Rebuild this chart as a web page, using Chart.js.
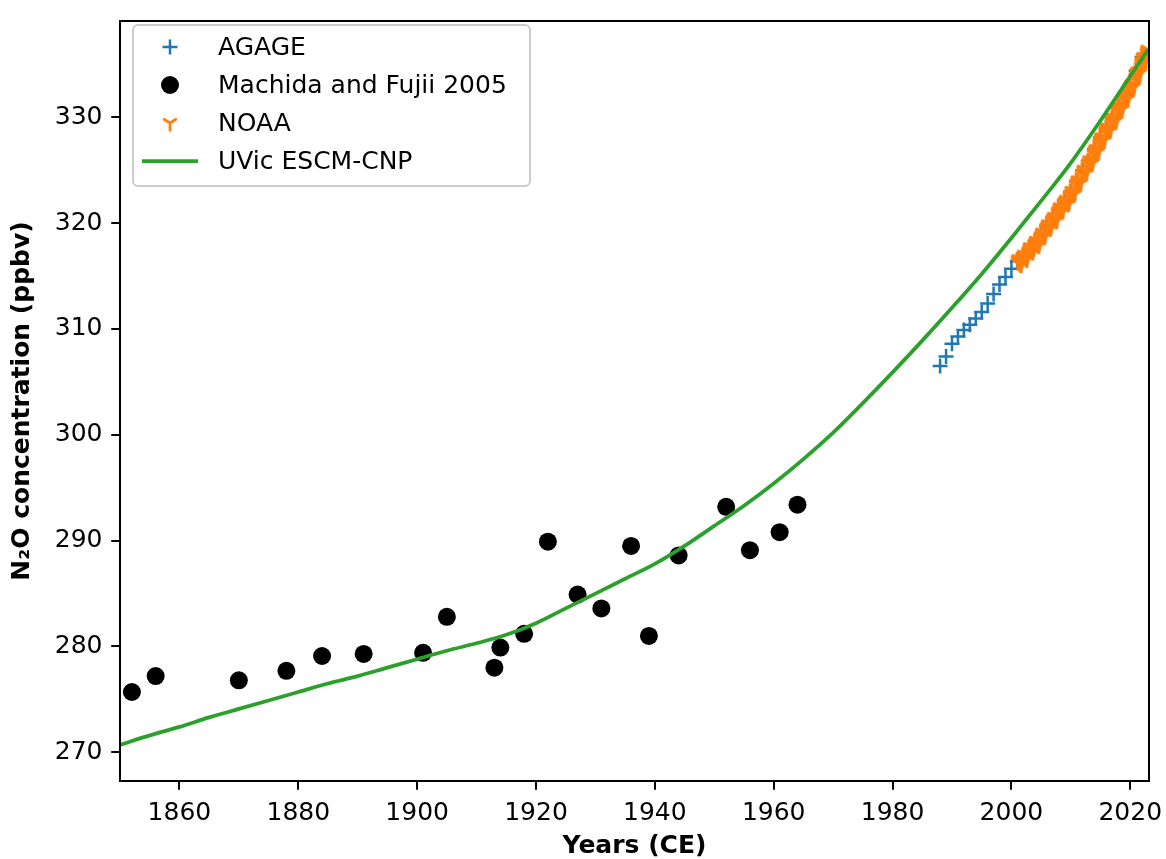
<!DOCTYPE html>
<html>
<head>
<meta charset="utf-8">
<script src="https://cdn.jsdelivr.net/npm/chart.js@4.4.0/dist/chart.umd.min.js"></script>
<style>
html,body{margin:0;padding:0;background:#ffffff;}
#wrap{width:1166px;height:859px;}
</style>
</head>
<body>
<div id="wrap"><canvas id="c" width="1166" height="859"></canvas></div>
<script>
// ---------- data ----------
const xTicks = [1860, 1880, 1900, 1920, 1940, 1960, 1980, 2000, 2020];
const yTicks = [270, 280, 290, 300, 310, 320, 330];

const machidaYears = [1852, 1856, 1870, 1878, 1884, 1891, 1901, 1905, 1913, 1914, 1918,
                      1922, 1927, 1931, 1936, 1939, 1944, 1952, 1956, 1961, 1964];
const machidaValues = [275.7, 277.2, 276.8, 277.7, 279.1, 279.3, 279.4, 282.8, 278.0, 279.9, 281.2,
                       289.9, 284.9, 283.6, 289.5, 281.0, 288.6, 293.2, 289.1, 290.8, 293.4];

const agageYears = [1988, 1989, 1990, 1991, 1992, 1993, 1994, 1995, 1996, 1997, 1998, 1999,
                    2000, 2001, 2002, 2003, 2004, 2005, 2006, 2007, 2008, 2009, 2010, 2011,
                    2012, 2013, 2014, 2015, 2016, 2017, 2018, 2019, 2020, 2021, 2022];
const agageValues = [306.5, 307.4, 308.6, 309.3, 309.9, 310.4, 311.0, 311.6, 312.4, 313.3, 314.2, 314.9,
                     315.7, 316.4, 316.9, 317.6, 318.2, 319.0, 319.8, 320.5, 321.4, 322.1, 323.0, 324.0,
                     325.0, 325.9, 327.0, 328.1, 329.0, 329.9, 331.0, 332.0, 333.1, 334.4, 335.7];

// NOAA monthly means, January 2001 onwards
const noaaStartYear = 2001;
const noaaMonthly = [
  316.3, 316.5, 316.6, 316.5, 316.3, 316.2, 316.1, 316.1, 316.4, 316.6, 316.8, 316.8,
  316.8, 317.0, 317.0, 316.9, 316.8, 316.7, 316.6, 316.6, 316.9, 317.1, 317.3, 317.3,
  317.5, 317.7, 317.7, 317.6, 317.5, 317.4, 317.3, 317.3, 317.6, 317.8, 318.0, 318.0,
  318.1, 318.3, 318.3, 318.2, 318.1, 318.0, 317.9, 317.9, 318.2, 318.4, 318.6, 318.6,
  318.8, 319.0, 319.1, 319.0, 318.9, 318.8, 318.7, 318.8, 319.0, 319.3, 319.5, 319.5,
  319.6, 319.8, 319.9, 319.8, 319.7, 319.6, 319.5, 319.6, 319.8, 320.1, 320.3, 320.3,
  320.3, 320.5, 320.6, 320.5, 320.4, 320.3, 320.2, 320.3, 320.5, 320.8, 321.0, 321.0,
  321.2, 321.4, 321.5, 321.4, 321.3, 321.2, 321.1, 321.2, 321.4, 321.7, 321.9, 321.9,
  321.9, 322.1, 322.2, 322.1, 322.0, 321.9, 321.8, 321.9, 322.1, 322.4, 322.6, 322.6,
  322.7, 323.0, 323.0, 323.0, 322.9, 322.8, 322.7, 322.8, 323.0, 323.3, 323.6, 323.6,
  323.7, 324.0, 324.0, 324.0, 323.9, 323.8, 323.7, 323.8, 324.0, 324.3, 324.6, 324.6,
  324.7, 325.0, 325.0, 325.0, 324.9, 324.8, 324.7, 324.8, 325.0, 325.3, 325.6, 325.6,
  325.6, 325.9, 325.9, 325.9, 325.8, 325.7, 325.6, 325.7, 326.0, 326.2, 326.5, 326.5,
  326.7, 326.9, 327.0, 326.9, 326.9, 326.8, 326.7, 326.8, 327.1, 327.4, 327.6, 327.7,
  327.8, 328.0, 328.1, 328.0, 328.0, 327.9, 327.8, 327.9, 328.2, 328.5, 328.7, 328.8,
  328.7, 329.0, 329.0, 329.0, 328.9, 328.8, 328.7, 328.8, 329.0, 329.3, 329.6, 329.6,
  329.6, 329.9, 329.9, 329.9, 329.8, 329.7, 329.6, 329.7, 330.0, 330.2, 330.5, 330.5,
  330.7, 330.9, 331.0, 330.9, 330.9, 330.8, 330.7, 330.8, 331.1, 331.3, 331.6, 331.6,
  331.7, 331.9, 332.0, 331.9, 331.9, 331.8, 331.7, 331.8, 332.1, 332.3, 332.6, 332.6,
  332.7, 333.0, 333.1, 333.0, 333.0, 332.9, 332.8, 332.9, 333.2, 333.5, 333.7, 333.8,
  334.0, 334.2, 334.3, 334.3, 334.2, 334.2, 334.1, 334.2, 334.5, 334.8, 335.1, 335.1,
  335.3, 335.6, 335.7, 335.6, 335.6, 335.5, 335.4, 335.5, 335.8, 336.1, 336.3, 336.4
];

const uvicYears = [1850, 1855, 1860, 1865, 1870, 1875, 1880, 1885, 1890, 1895, 1900, 1905,
                   1910, 1915, 1920, 1925, 1930, 1935, 1940, 1945, 1950, 1955, 1960, 1965,
                   1970, 1975, 1980, 1985, 1990, 1995, 2000, 2005, 2010, 2015, 2020, 2023];
const uvicValues = [270.7, 271.6, 272.4, 273.3, 274.1, 274.9, 275.7, 276.5, 277.2, 278.0, 278.8, 279.6,
                    280.3, 281.1, 282.2, 283.6, 285.0, 286.4, 287.8, 289.5, 291.4, 293.3, 295.4, 297.7,
                    300.2, 303.0, 305.9, 308.9, 312.0, 315.2, 318.6, 322.1, 325.7, 329.7, 333.9, 336.4];

// ---------- styling ----------
const FONT = 'DejaVu Sans';
const C_BLUE = '#1f77b4', C_ORANGE = '#ff7f0e', C_GREEN = '#2ca02c';

function makeTriDown(color, r, lw) {
  const s = Math.ceil(2 * r + lw + 2);
  const c = document.createElement('canvas');
  c.width = s; c.height = s;
  const g = c.getContext('2d');
  g.strokeStyle = color; g.lineWidth = lw; g.lineCap = 'butt';
  const cx = s / 2, cy = s / 2;
  g.beginPath();
  g.moveTo(cx, cy); g.lineTo(cx, cy + r);
  g.moveTo(cx, cy); g.lineTo(cx + 0.8 * r, cy - 0.5 * r);
  g.moveTo(cx, cy); g.lineTo(cx - 0.8 * r, cy - 0.5 * r);
  g.stroke();
  return c;
}
const triDown = makeTriDown(C_ORANGE, 8.5, 2.7);

const toPts = (xs, ys) => xs.map((x, i) => ({x: x, y: ys[i]}));
const noaaPts = noaaMonthly.map((v, i) => ({x: noaaStartYear + (i + 0.5) / 12, y: v}));

const legendLayout = {x: 133, y: 25, w: 397, h: 161, row0: 47, rowStep: 38,
                      markerX: 170, lineX0: 142, lineX1: 198, textX: 218};

const frameAndLegend = {
  id: 'frameAndLegend',
  afterDatasetsDraw(chart) {
    const ctx = chart.ctx, a = chart.chartArea, L = legendLayout;
    ctx.save();
    ctx.strokeStyle = '#000'; ctx.lineWidth = 2;
    ctx.strokeRect(a.left, a.top, a.right - a.left, a.bottom - a.top);

    ctx.beginPath();
    if (ctx.roundRect) ctx.roundRect(L.x, L.y, L.w, L.h, 5); else ctx.rect(L.x, L.y, L.w, L.h);
    ctx.fillStyle = 'rgba(255,255,255,0.8)';
    ctx.fill();
    ctx.strokeStyle = '#cccccc'; ctx.lineWidth = 2;
    ctx.stroke();

    chart.data.datasets.forEach((ds, i) => {
      const y = L.row0 + i * L.rowStep;
      if (ds.showLine) {
        ctx.strokeStyle = ds.borderColor; ctx.lineWidth = ds.borderWidth;
        ctx.beginPath(); ctx.moveTo(L.lineX0, y); ctx.lineTo(L.lineX1, y); ctx.stroke();
      } else {
        ctx.fillStyle = ds.backgroundColor;
        ctx.strokeStyle = ds.borderColor;
        ctx.lineWidth = ds.pointBorderWidth;
        Chart.helpers.drawPoint(ctx, {pointStyle: ds.pointStyle, radius: ds.pointRadius,
          borderWidth: ds.pointBorderWidth, rotation: 0}, L.markerX, y);
      }
      ctx.fillStyle = '#000';
      ctx.font = '25px "' + FONT + '"';
      ctx.textAlign = 'left'; ctx.textBaseline = 'middle';
      ctx.fillText(ds.label, L.textX, y + 1);
    });
    ctx.restore();
  }
};

const tickFont = {family: FONT, size: 25};
const titleFont = {family: FONT, size: 25, weight: 'bold', lineHeight: 1};

new Chart(document.getElementById('c'), {
  type: 'scatter',
  data: {
    datasets: [
      {label: 'AGAGE', data: toPts(agageYears, agageValues), pointStyle: 'cross',
       pointRadius: 7.5, pointBorderWidth: 2.5, borderColor: C_BLUE, backgroundColor: C_BLUE,
       order: 4, clip: 0},
      {label: 'Machida and Fujii 2005', data: toPts(machidaYears, machidaValues), pointStyle: 'circle',
       pointRadius: 9, pointBorderWidth: 0, borderColor: '#000', backgroundColor: '#000',
       order: 3, clip: 0},
      {label: 'NOAA', data: noaaPts, pointStyle: triDown, pointRadius: 8.5, pointBorderWidth: 2.7,
       borderColor: C_ORANGE, backgroundColor: C_ORANGE, order: 2, clip: 0},
      {label: 'UVic ESCM-CNP', data: toPts(uvicYears, uvicValues), showLine: true, pointRadius: 0,
       borderColor: C_GREEN, backgroundColor: C_GREEN, borderWidth: 3.75,
       cubicInterpolationMode: 'monotone', order: 1, clip: 0}
    ]
  },
  options: {
    responsive: false,
    animation: false,
    events: [],
    layout: {padding: {left: 9.5, top: 21, right: 17, bottom: 0.5}},
    plugins: {legend: {display: false}, tooltip: {enabled: false}},
    scales: {
      x: {
        type: 'linear', min: 1850, max: 2023.15,
        afterBuildTicks: s => { s.ticks = xTicks.map(v => ({value: v})); },
        afterFit: s => { s.height = 77.5; s.paddingLeft = 0; s.paddingRight = 0; },
        ticks: {color: '#000', font: tickFont, padding: 8.75, maxRotation: 0, autoSkip: false,
                callback: v => String(v)},
        grid: {drawOnChartArea: false, drawTicks: true, tickLength: 8.75, color: '#000', lineWidth: 2},
        border: {display: false},
        title: {display: true, text: 'Years (CE)', color: '#000', font: titleFont, padding: 0}
      },
      y: {
        type: 'linear', min: 267.29, max: 339.1,
        afterBuildTicks: s => { s.ticks = yTicks.map(v => ({value: v})); },
        afterFit: s => { s.width = 110.5; s.paddingTop = 0; s.paddingBottom = 0; },
        ticks: {color: '#000', font: tickFont, padding: 8.75, autoSkip: false,
                callback: v => String(v)},
        grid: {drawOnChartArea: false, drawTicks: true, tickLength: 8.75, color: '#000', lineWidth: 2},
        border: {display: false},
        title: {display: true, text: 'N\u2082O concentration (ppbv)', color: '#000', font: titleFont, padding: 0}
      }
    }
  },
  plugins: [frameAndLegend]
});
</script>
</body>
</html>
